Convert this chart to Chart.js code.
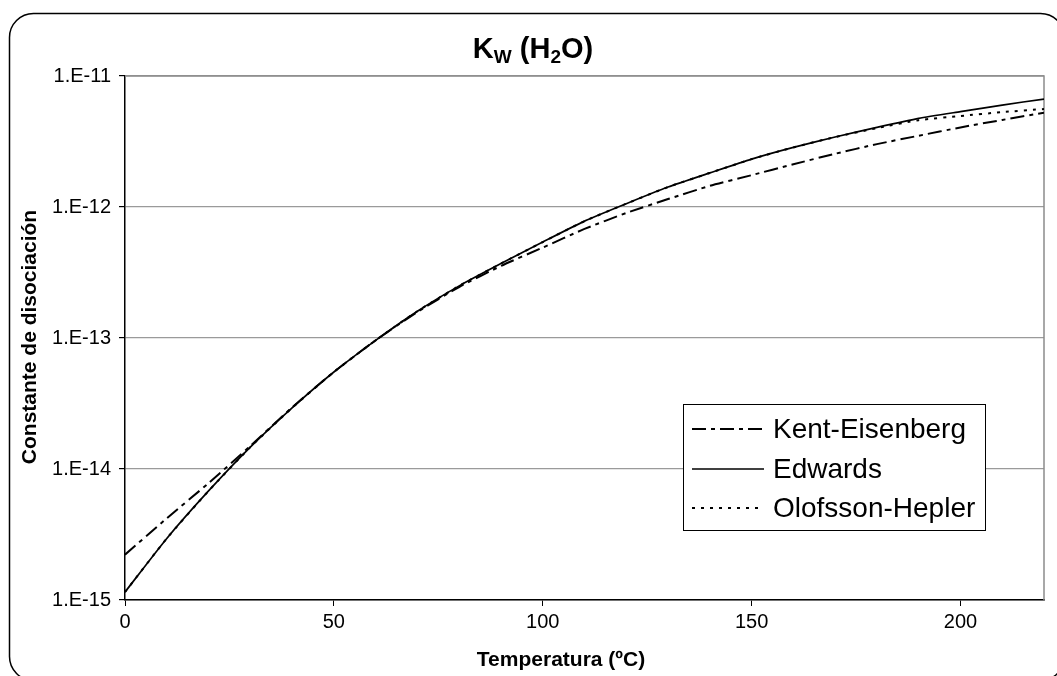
<!DOCTYPE html>
<html>
<head>
<meta charset="utf-8">
<script src="https://cdn.jsdelivr.net/npm/chart.js@4.4.1/dist/chart.umd.min.js"></script>
<style>
  html, body { margin: 0; padding: 0; background: #fff; }
  #wrap { width: 1057px; height: 676px; }
</style>
</head>
<body>
<div id="wrap"><canvas id="kwChart" width="1057" height="676"></canvas></div>
<script>
// Kw of water vs temperature, three models
const temps = [0, 10, 20, 30, 40, 50, 60, 70, 80, 90, 100, 110, 120, 130, 140, 150, 160, 170, 180, 190, 200, 210, 220]
const kentEisenberg = [2.22e-15, 4.2e-15, 7.8e-15, 1.5e-14, 2.95e-14, 5.5e-14, 9.6e-14, 1.58e-13, 2.45e-13, 3.55e-13, 4.9e-13, 6.8e-13, 9.0e-13, 1.15e-12, 1.45e-12, 1.75e-12, 2.12e-12, 2.55e-12, 3.02e-12, 3.5e-12, 4.05e-12, 4.62e-12, 5.25e-12]
const edwards = [1.15e-15, 2.95e-15, 6.8e-15, 1.47e-14, 2.93e-14, 5.5e-14, 9.6e-14, 1.6e-13, 2.5e-13, 3.7e-13, 5.4e-13, 7.8e-13, 1.06e-12, 1.42e-12, 1.82e-12, 2.32e-12, 2.85e-12, 3.42e-12, 4.05e-12, 4.75e-12, 5.35e-12, 6.0e-12, 6.67e-12]
const olofssonHepler = [1.15e-15, 2.95e-15, 6.8e-15, 1.47e-14, 2.93e-14, 5.5e-14, 9.6e-14, 1.6e-13, 2.5e-13, 3.7e-13, 5.4e-13, 7.8e-13, 1.06e-12, 1.42e-12, 1.82e-12, 2.32e-12, 2.85e-12, 3.42e-12, 4.0e-12, 4.6e-12, 4.95e-12, 5.3e-12, 5.6e-12]

const seriesNames = ["Kent-Eisenberg", "Edwards", "Olofsson-Hepler"]
const xTicks = [0, 50, 100, 150, 200]
const yTicks = [1e-15, 1e-14, 1e-13, 1e-12, 1e-11]

const FONT = '"Liberation Sans", Arial, Helvetica, sans-serif'

function toPoints(values) {
  return temps.map((t, i) => ({ x: t, y: values[i] }))
}

// white background + rounded outer frame
const framePlugin = {
  id: "frame",
  beforeDraw(chart) {
    const ctx = chart.ctx
    ctx.save()
    ctx.fillStyle = "#fff"
    ctx.fillRect(0, 0, chart.width, chart.height)
    ctx.strokeStyle = "#000"
    ctx.lineWidth = 1.5
    ctx.beginPath()
    ctx.roundRect(9.5, 13.5, 1055, 667, 24)
    ctx.stroke()
    ctx.restore()
  },
}

// title with subscripts, axis titles, plot border and legend box
const decorPlugin = {
  id: "decor",
  beforeDatasetsDraw(chart) {
    const { ctx, chartArea } = chart
    ctx.save()
    ctx.strokeStyle = "#8c8c8c"
    ctx.lineWidth = 1.5
    ctx.beginPath()
    ctx.moveTo(chartArea.left, chartArea.top)
    ctx.lineTo(chartArea.right, chartArea.top)
    ctx.lineTo(chartArea.right, chartArea.bottom)
    ctx.stroke()
    ctx.restore()
  },
  afterDraw(chart) {
    const ctx = chart.ctx
    ctx.save()
    ctx.fillStyle = "#000"

    // title  K_W (H_2O)
    const parts = [
      { t: "K", size: 29, dy: 0 },
      { t: "W", size: 19, dy: 5 },
      { t: " (H", size: 29, dy: 0 },
      { t: "2", size: 19, dy: 5 },
      { t: "O)", size: 29, dy: 0 },
    ]
    let total = 0
    parts.forEach((p) => {
      ctx.font = `bold ${p.size}px ${FONT}`
      p.w = ctx.measureText(p.t).width
      total += p.w
    })
    let x = 533 - total / 2
    ctx.textBaseline = "alphabetic"
    ctx.textAlign = "left"
    parts.forEach((p) => {
      ctx.font = `bold ${p.size}px ${FONT}`
      ctx.fillText(p.t, x, 58 + p.dy)
      x += p.w
    })

    // axis titles
    ctx.font = `bold 21px ${FONT}`
    ctx.textAlign = "center"
    ctx.textBaseline = "middle"
    ctx.fillText("Temperatura (ºC)", 561, 660)
    ctx.translate(30, 337)
    ctx.rotate(-Math.PI / 2)
    ctx.fillText("Constante de disociación", 0, 0)
    ctx.setTransform(1, 0, 0, 1, 0, 0)

    // legend
    ctx.fillStyle = "#fff"
    ctx.fillRect(683, 404, 302, 126)
    ctx.strokeStyle = "#000"
    ctx.lineWidth = 1
    ctx.strokeRect(683.5, 404.5, 302, 126)
    const rows = [429, 469, 508]
    chart.data.datasets.forEach((ds, i) => {
      ctx.strokeStyle = ds.borderColor
      ctx.lineWidth = ds.borderWidth
      ctx.setLineDash(ds.borderDash || [])
      ctx.beginPath()
      ctx.moveTo(692, rows[i])
      ctx.lineTo(764, rows[i])
      ctx.stroke()
      ctx.setLineDash([])
      ctx.fillStyle = "#000"
      ctx.font = `28px ${FONT}`
      ctx.textAlign = "left"
      ctx.textBaseline = "middle"
      ctx.fillText(ds.label, 773, rows[i] + 1)
    })
    ctx.restore()
  },
}

const ctx = document.getElementById("kwChart").getContext("2d")
new Chart(ctx, {
  type: "line",
  data: {
    datasets: [
      {
        label: seriesNames[0],
        data: toPoints(kentEisenberg),
        borderColor: "#000",
        borderWidth: 2,
        borderDash: [14, 5, 4, 5],
        pointRadius: 0,
        tension: 0.2,
      },
      {
        label: seriesNames[1],
        data: toPoints(edwards),
        borderColor: "#000",
        borderWidth: 1.7,
        pointRadius: 0,
        tension: 0.2,
      },
      {
        label: seriesNames[2],
        data: toPoints(olofssonHepler),
        borderColor: "#000",
        borderWidth: 2,
        borderDash: [3, 6],
        pointRadius: 0,
        tension: 0.2,
      },
    ],
  },
  options: {
    responsive: false,
    devicePixelRatio: 1,
    animation: false,
    layout: { padding: { top: 76, right: 13, left: 0, bottom: 0 } },
    plugins: {
      legend: { display: false },
      title: { display: false },
      tooltip: { enabled: false },
    },
    scales: {
      x: {
        type: "linear",
        min: 0,
        max: 220,
        afterBuildTicks: (scale) => {
          scale.ticks = xTicks.map((v) => ({ value: v }))
        },
        afterFit: (scale) => {
          scale.height = 76
        },
        ticks: {
          color: "#000",
          font: { family: FONT, size: 20 },
          padding: 4,
          maxRotation: 0,
        },
        grid: { drawOnChartArea: false, tickLength: 6, tickColor: "#000" },
        border: { color: "#000", width: 1.5 },
      },
      y: {
        type: "logarithmic",
        min: 1e-15,
        max: 1e-11,
        afterBuildTicks: (scale) => {
          scale.ticks = yTicks.map((v) => ({ value: v, major: true }))
        },
        afterFit: (scale) => {
          scale.width = 125
        },
        ticks: {
          color: "#000",
          font: { family: FONT, size: 20 },
          padding: 8,
          callback: (v) => "1.E" + Math.round(Math.log10(v)),
        },
        grid: { color: "#9a9a9a", lineWidth: 1.2, tickLength: 6, tickColor: "#000" },
        border: { color: "#000", width: 1.5 },
      },
    },
  },
  plugins: [framePlugin, decorPlugin],
})
</script>
</body>
</html>
